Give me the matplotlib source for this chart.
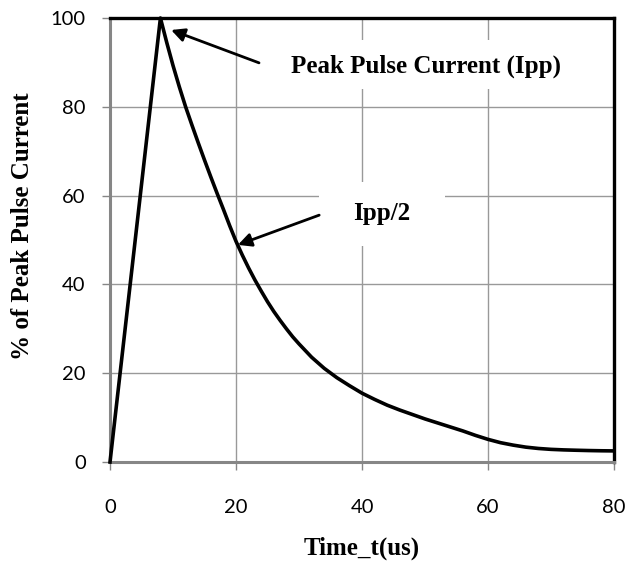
import matplotlib
matplotlib.use("Agg")
import matplotlib.pyplot as plt
from matplotlib.patches import Rectangle

# pulse waveform
time_us = [0, 8, 9, 10, 11, 12, 13, 14, 15, 16, 17, 18, 19, 20, 21, 22, 23, 24, 25,
           26, 27, 28, 29, 30, 32, 34, 36, 38, 40, 42, 44, 46, 48, 50, 52, 54, 56,
           58, 60, 62, 64, 66, 68, 70, 72, 74, 76, 78, 80]
current_pct = [0, 100, 94.5, 89.3, 84.5, 80, 75.9, 71.9, 68, 64.2, 60.5, 56.9, 53.2,
               49.7, 46.6, 43.7, 41, 38.5, 36.1, 33.9, 31.9, 30, 28.2, 26.6, 23.6,
               21.1, 19.0, 17.2, 15.5, 14.1, 12.8, 11.7, 10.7, 9.7, 8.8, 7.9, 7.0,
               6.0, 5.1, 4.35, 3.8, 3.35, 3.05, 2.85, 2.73, 2.65, 2.58, 2.53, 2.5]

x_ticks = [0, 20, 40, 60, 80]
y_ticks = [0, 20, 40, 60, 80, 100]

peak_label = "Peak Pulse Current (Ipp)"
half_label = "Ipp/2"

GRID = "#999999"
AXIS_GREY = "#868686"
SERIF = ["Liberation Serif", "DejaVu Serif"]
SANS = ["Lato", "DejaVu Sans"]


def main():
    fig = plt.figure(figsize=(6.29, 5.68), dpi=100)
    ax = fig.add_axes([0.1749, 0.1866, 0.8013, 0.7817])

    ax.set_xlim(0, 80)
    ax.set_ylim(0, 100)
    ax.set_xticks(x_ticks)
    ax.set_yticks(y_ticks)

    ax.grid(True, color=GRID, linewidth=1.0, zorder=1)
    ax.set_axisbelow(True)

    # white boxes behind the labels cut through the grid
    ax.add_patch(Rectangle((23.65, 84.0), 53.0, 11.0, facecolor="white",
                           edgecolor="none", zorder=1.5))
    ax.add_patch(Rectangle((33.2, 48.6), 20.0, 14.5, facecolor="white",
                           edgecolor="none", zorder=1.5))

    ax.plot(time_us, current_pct, color="black", linewidth=2.6,
            solid_joinstyle="round", clip_on=False, zorder=3)

    ax.text(50.2, 89.2, peak_label, fontsize=18, fontweight="bold",
            family=SERIF, ha="center", va="center", zorder=4)
    ax.text(43.2, 55.9, half_label, fontsize=18, fontweight="bold",
            family=SERIF, ha="center", va="center", zorder=4)

    arrow = dict(arrowstyle="-|>", color="black", linewidth=2.0,
                 mutation_scale=20, shrinkA=0, shrinkB=0)
    ax.annotate("", xy=(9.7, 97.3), xytext=(23.65, 89.9),
                arrowprops=arrow, zorder=4)
    ax.annotate("", xy=(20.3, 48.9), xytext=(33.2, 55.6),
                arrowprops=arrow, zorder=4)

    for side in ("left", "bottom"):
        ax.spines[side].set_color(AXIS_GREY)
        ax.spines[side].set_linewidth(2.2)
    for side in ("top", "right"):
        ax.spines[side].set_color("black")
        ax.spines[side].set_linewidth(2.4)

    ax.tick_params(axis="both", direction="out", length=5.5, width=1.0,
                   color=AXIS_GREY, labelsize=14.5)
    ax.tick_params(axis="x", pad=21)
    ax.tick_params(axis="y", pad=12)
    for lab in ax.get_xticklabels() + ax.get_yticklabels():
        lab.set_family(SANS)

    ax.set_xlabel("Time_t(us)", fontsize=18, fontweight="bold", family=SERIF,
                  va="center")
    ax.xaxis.set_label_coords(0.5, -0.194)
    ax.set_ylabel("% of Peak Pulse Current", fontsize=18, fontweight="bold",
                  family=SERIF, va="center", ha="center")
    ax.yaxis.set_label_coords(-0.1746, 0.5315)

    fig.savefig("out.png", dpi=100)


if __name__ == "__main__":
    main()
